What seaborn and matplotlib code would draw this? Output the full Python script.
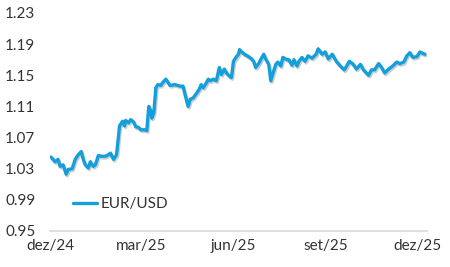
import matplotlib
matplotlib.use("Agg")
import matplotlib.pyplot as plt
import matplotlib.patheffects as pe
from matplotlib.lines import Line2D
import pandas as pd
import seaborn as sns

# Days since 2024-12-01 and EUR/USD values
days = [1, 5, 8, 10, 13, 16, 18, 22, 25, 28, 31, 33, 35, 38, 40, 43, 45, 48, 51, 55,
        58, 60, 63, 66, 69, 72, 74, 75, 78, 80, 83, 85, 88, 90, 94, 96, 98, 100, 101, 103,
        105, 107, 110, 112, 115, 117, 119, 124, 129, 132, 134, 137, 139, 142, 146, 148, 150, 152, 155, 157,
        159, 162, 165, 168, 170, 173, 175, 178, 180, 182, 185, 187, 188, 191, 193, 197, 200, 202, 204, 207,
        209, 212, 214, 217, 219, 222, 224, 226, 229, 231, 235, 237, 240, 242, 245, 247, 250, 253, 256, 260,
        264, 266, 270, 273, 276, 280, 284, 288, 292, 297, 301, 304, 308, 311, 316, 319, 322, 326, 329, 332,
        336, 340, 344, 347, 351, 354, 357, 360, 364, 367, 370, 372]
eurusd = [1.045, 1.039, 1.042, 1.033, 1.035, 1.023, 1.029, 1.030, 1.042, 1.048, 1.052, 1.042, 1.035, 1.031, 1.039, 1.033, 1.035, 1.047, 1.046, 1.046,
          1.048, 1.050, 1.042, 1.048, 1.085, 1.091, 1.085, 1.092, 1.089, 1.093, 1.090, 1.084, 1.083, 1.080, 1.080, 1.079, 1.110, 1.104, 1.095, 1.102,
          1.134, 1.138, 1.137, 1.141, 1.145, 1.141, 1.137, 1.138, 1.136, 1.136, 1.125, 1.110, 1.119, 1.121, 1.128, 1.132, 1.138, 1.134, 1.140, 1.145,
          1.143, 1.145, 1.143, 1.160, 1.151, 1.158, 1.153, 1.149, 1.147, 1.168, 1.174, 1.177, 1.183, 1.179, 1.177, 1.174, 1.171, 1.168, 1.160, 1.165,
          1.170, 1.177, 1.171, 1.164, 1.143, 1.156, 1.164, 1.167, 1.162, 1.173, 1.170, 1.170, 1.163, 1.170, 1.162, 1.168, 1.173, 1.168, 1.175, 1.172,
          1.177, 1.184, 1.177, 1.180, 1.171, 1.177, 1.168, 1.162, 1.157, 1.168, 1.164, 1.158, 1.164, 1.157, 1.150, 1.157, 1.157, 1.165, 1.160, 1.153,
          1.158, 1.162, 1.167, 1.165, 1.167, 1.175, 1.179, 1.173, 1.174, 1.180, 1.178, 1.177]

tick_dates = ["2024-12-01", "2025-03-01", "2025-06-01", "2025-09-01", "2025-12-01"]
tick_labels = ["dez/24", "mar/25", "jun/25", "set/25", "dez/25"]
y_ticks = [0.95, 0.99, 1.03, 1.07, 1.11, 1.15, 1.19, 1.23]
series_name = "EUR/USD"

start = pd.Timestamp("2024-12-01")
df = pd.DataFrame({"date": start + pd.to_timedelta(days, unit="D"), "value": eurusd})

sns.set_style("white")
plt.rcParams["font.family"] = ["Lato", "DejaVu Sans"]

LINE_COLOR = "#139FDC"
TEXT_COLOR = "#333333"
FS = 11

fig = plt.figure(figsize=(4.5, 2.67), dpi=100)
ax = fig.add_axes([50 / 450, 36 / 267, 377 / 450, 218 / 267])

sns.lineplot(data=df, x="date", y="value", ax=ax, color=LINE_COLOR, linewidth=2.4,
             legend=False)
for ln in ax.lines:
    ln.set_path_effects([pe.SimpleLineShadow(offset=(0.8, -1.2), shadow_color="#9a9a9a", alpha=0.5),
                         pe.Normal()])

ax.set_xlim(start, pd.Timestamp("2025-12-10"))
ax.set_ylim(0.95, 1.23)
ax.set_yticks(y_ticks)
ax.set_yticklabels([f"{v:.2f}" for v in y_ticks])
ax.set_xticks(pd.to_datetime(tick_dates))
ax.set_xticklabels(tick_labels)

for s in ["top", "right", "left"]:
    ax.spines[s].set_visible(False)
ax.spines["bottom"].set_color("#d9d9d9")
ax.spines["bottom"].set_linewidth(1.2)

ax.tick_params(axis="y", length=0, pad=10.5, labelsize=FS, labelcolor=TEXT_COLOR)
ax.tick_params(axis="x", direction="in", length=4, width=1, color="#d9d9d9",
               pad=6, labelsize=FS, labelcolor=TEXT_COLOR)
ax.set_xlabel("")
ax.set_ylabel("")
ax.grid(False)

handle = Line2D([], [], color=LINE_COLOR, linewidth=2.4)
ax.legend([handle], [series_name], loc="center left", bbox_to_anchor=(0.06, 0.124),
          frameon=False, handlelength=1.6, handletextpad=0.25, fontsize=FS,
          labelcolor=TEXT_COLOR, borderaxespad=0, borderpad=0)

fig.savefig("out.png", dpi=100)
